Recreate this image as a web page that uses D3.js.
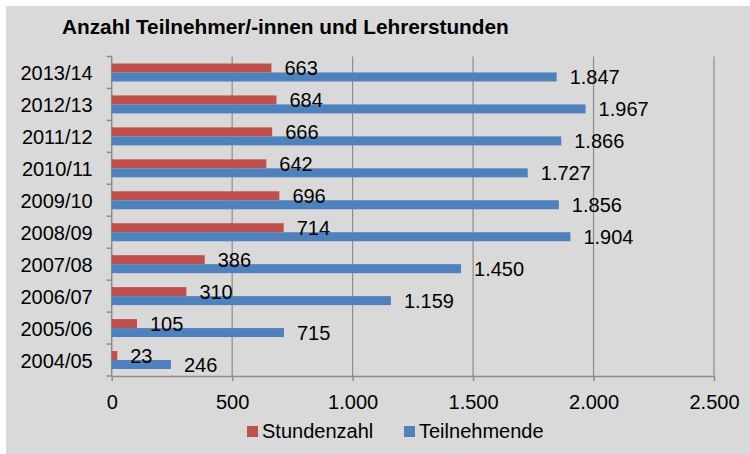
<!DOCTYPE html>
<html>
<head>
<meta charset="utf-8">
<script src="https://cdn.jsdelivr.net/npm/d3@7"></script>
<style>
  body { margin: 0; background: #fff; }
  text { font-family: "Liberation Sans", Arial, sans-serif; fill: #000; }
</style>
</head>
<body>
<div id="chart"></div>
<script>

// chart data (top row first, as in the picture)
const years = ["2013/14", "2012/13", "2011/12", "2010/11", "2009/10",
               "2008/09", "2007/08", "2006/07", "2005/06", "2004/05"];
const stundenzahl = [663, 684, 666, 642, 696, 714, 386, 310, 105, 23];
const teilnehmende = [1847, 1967, 1866, 1727, 1856, 1904, 1450, 1159, 715, 246];
const xTicks = [0, 500, 1000, 1500, 2000, 2500];

const seriesNames = ["Stundenzahl", "Teilnehmende"];
const colors = ["#C0504D", "#4F81BD"];

// dimensions
const width = 750;
const height = 454;
const margin = {left: 111.7, right: 36, top: 56.5, bottom: 78};

// german number format (1.000)
const de = d3.formatLocale({decimal: ",", thousands: ".", grouping: [3], currency: ["", " €"]});
const fmt = de.format(",");

const svg = d3.select("#chart")
  .append("svg")
  .attr("width", width)
  .attr("height", height)
  .attr("viewBox", [0, 0, width, height]);

// gray chart area
svg.append("rect")
  .attr("x", 6).attr("y", 6)
  .attr("width", width - 6).attr("height", height - 6)
  .attr("fill", "#D9D9D9");

// title
svg.append("text")
  .attr("x", 62).attr("y", 34)
  .attr("font-size", "20.8px")
  .attr("font-weight", "bold")
  .text("Anzahl Teilnehmer/-innen und Lehrerstunden");

// scales
const xScale = d3.scaleLinear()
  .domain([0, 2500])
  .range([margin.left, width - margin.right]);

const yScale = d3.scaleBand()
  .domain(years)
  .range([margin.top, height - margin.bottom])
  .paddingInner(0.4375)
  .paddingOuter(0.21875);

const subScale = d3.scaleBand()
  .domain(seriesNames)
  .range([0, yScale.bandwidth()]);

const plotBottom = height - margin.bottom;

// vertical gridlines
svg.append("g")
  .selectAll("line")
  .data(xTicks.slice(1))
  .enter()
  .append("line")
    .attr("x1", d => xScale(d)).attr("x2", d => xScale(d))
    .attr("y1", margin.top).attr("y2", plotBottom)
    .attr("stroke", "#8C8C8C")
    .attr("stroke-width", 1.2);

// x axis
const xAxis = svg.append("g")
  .attr("transform", `translate(0,${plotBottom})`)
  .call(d3.axisBottom(xScale).tickValues(xTicks).tickFormat(fmt).tickSize(5).tickSizeOuter(0).tickPadding(14));
xAxis.selectAll("line, path").attr("stroke", "#8C8C8C").attr("stroke-width", 1.5);
xAxis.selectAll("text").attr("font-size", "20px").attr("font-family", "Liberation Sans, Arial, sans-serif");

// y axis : ticks on band edges
const step = yScale.step();
const yEdges = d3.range(years.length + 1).map(i => margin.top + i * step);
svg.append("g")
  .selectAll("line")
  .data(yEdges)
  .enter()
  .append("line")
    .attr("x1", margin.left - 5).attr("x2", margin.left)
    .attr("y1", d => d).attr("y2", d => d)
    .attr("stroke", "#8C8C8C")
    .attr("stroke-width", 1.5);
svg.append("line")
  .attr("x1", margin.left).attr("x2", margin.left)
  .attr("y1", margin.top).attr("y2", plotBottom)
  .attr("stroke", "#8C8C8C")
  .attr("stroke-width", 1.5);

// category labels
svg.append("g")
  .selectAll("text")
  .data(years)
  .enter()
  .append("text")
    .attr("x", margin.left - 19)
    .attr("y", d => yScale(d) + yScale.bandwidth() / 2 + 1)
    .attr("dy", "0.35em")
    .attr("text-anchor", "end")
    .attr("font-size", "20px")
    .text(d => d);

// bars first, labels afterwards so they sit on top of the bars
const series = [stundenzahl, teilnehmende];
const barLayer = svg.append("g");
const labelLayer = svg.append("g");

series.forEach((values, s) => {
  const rows = years.map((y, i) => ({year: y, value: values[i]}));

  barLayer.selectAll(".bar" + s)
    .data(rows)
    .enter()
    .append("rect")
      .attr("class", "bar" + s)
      .attr("x", xScale(0))
      .attr("y", d => yScale(d.year) + subScale(seriesNames[s]))
      .attr("width", d => xScale(d.value) - xScale(0))
      .attr("height", subScale.bandwidth())
      .attr("fill", colors[s]);

  // value labels
  labelLayer.selectAll(".lbl" + s)
    .data(rows)
    .enter()
    .append("text")
      .attr("class", "lbl" + s)
      .attr("x", d => xScale(d.value) + 13)
      .attr("y", d => yScale(d.year) + subScale(seriesNames[s]) + subScale.bandwidth() / 2 + 0.5)
      .attr("dy", "0.35em")
      .attr("font-size", "20px")
      .text(d => fmt(d.value));
});

// legend
const legendX = [247, 404];
const legend = svg.append("g")
  .selectAll("g")
  .data(seriesNames)
  .enter()
  .append("g")
    .attr("transform", (d, i) => `translate(${legendX[i]},426)`);
legend.append("rect")
  .attr("width", 11).attr("height", 11)
  .attr("fill", (d, i) => colors[i]);
legend.append("text")
  .attr("x", 15).attr("y", 12)
  .attr("font-size", "20px")
  .text(d => d);

</script>
</body>
</html>
